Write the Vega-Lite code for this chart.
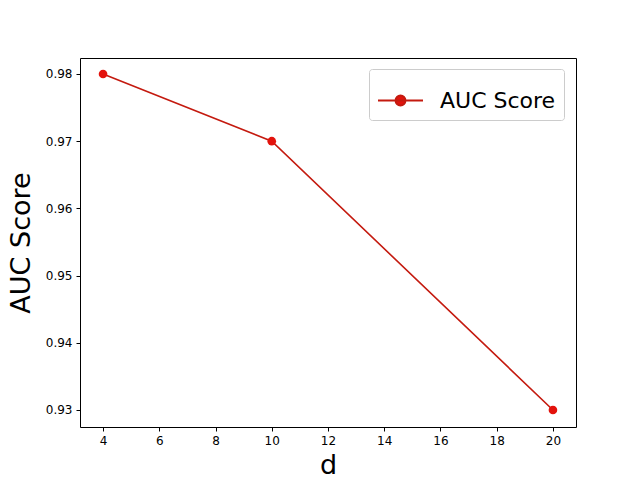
{
  "$schema": "https://vega.github.io/schema/vega-lite/v6.json",
  "width": 496,
  "height": 369,
  "autosize": "none",
  "padding": {"left": 80, "top": 58, "right": 64, "bottom": 53},
  "background": "white",
  "config": {
    "font": "DejaVu Sans",
    "view": {"stroke": "black", "strokeWidth": 1},
    "axis": {
      "grid": false,
      "domain": false,
      "tickColor": "black",
      "tickSize": 4,
      "tickWidth": 1,
      "labelColor": "black",
      "labelFont": "DejaVu Sans",
      "labelFontSize": 12,
      "labelPadding": 4,
      "titleFont": "DejaVu Sans",
      "titleFontWeight": "normal",
      "titleColor": "black",
      "titleFontSize": 27
    }
  },
  "data": {
    "values": [
      {"d": 4, "auc": 0.98, "series": "AUC Score"},
      {"d": 10, "auc": 0.97, "series": "AUC Score"},
      {"d": 20, "auc": 0.93, "series": "AUC Score"}
    ]
  },
  "encoding": {
    "x": {
      "field": "d",
      "type": "quantitative",
      "scale": {"domain": [3.18, 20.82], "nice": false, "zero": false},
      "axis": {"values": [4, 6, 8, 10, 12, 14, 16, 18, 20], "title": "d", "titlePadding": 6}
    },
    "y": {
      "field": "auc",
      "type": "quantitative",
      "scale": {"domain": [0.92747, 0.98238], "nice": false, "zero": false},
      "axis": {"values": [0.93, 0.94, 0.95, 0.96, 0.97, 0.98], "format": ".2f", "title": "AUC Score", "titlePadding": 10}
    }
  },
  "layer": [
    {
      "mark": {"type": "line", "strokeWidth": 1.6},
      "encoding": {
        "color": {
          "field": "series",
          "type": "nominal",
          "scale": {"range": ["#c41a0f"]},
          "legend": {
            "title": null,
            "orient": "none",
            "legendX": 289,
            "legendY": 11,
            "symbolType": "M-1,0L1,0M-0.22,0A0.22,0.22 0 1,1 0.22,0A0.22,0.22 0 1,1 -0.22,0Z",
            "symbolSize": 2025,
            "symbolStrokeWidth": 2,
            "symbolFillColor": "#e3120c",
            "symbolStrokeColor": "#d2190f",
            "labelFontSize": 22,
            "labelFont": "DejaVu Sans",
            "labelColor": "black",
            "labelOffset": 16,
            "padding": 8,
            "strokeColor": "#cccccc",
            "fillColor": "white",
            "cornerRadius": 3
          }
        }
      }
    },
    {
      "mark": {"type": "point", "filled": true, "size": 75, "color": "#e3120c", "opacity": 1}
    }
  ]
}
